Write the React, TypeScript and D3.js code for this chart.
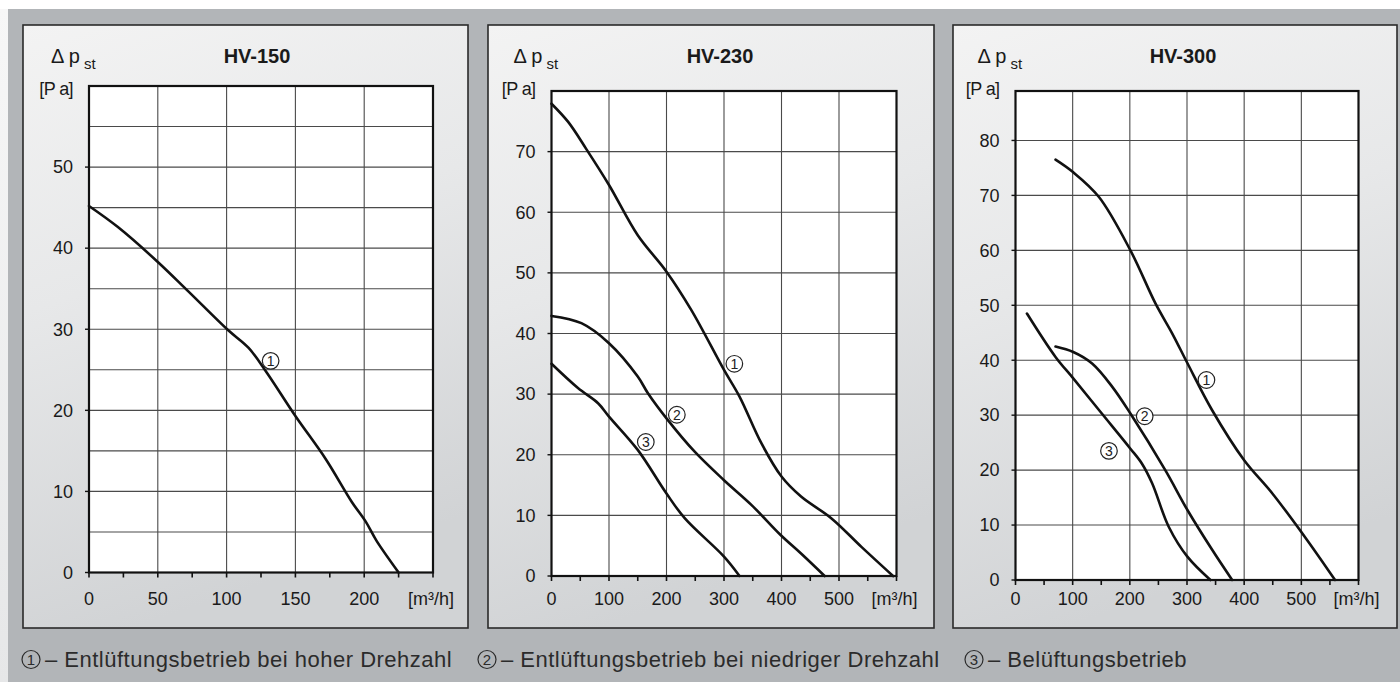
import React from "react";
import * as d3 from "d3";

// ---------- data ----------
const titles = ["HV-150", "HV-230", "HV-300"];

const hv150XLabels = [0, 50, 100, 150, 200];
const hv150YLabels = [0, 10, 20, 30, 40, 50];
const hv230XLabels = [0, 100, 200, 300, 400, 500];
const hv230YLabels = [0, 10, 20, 30, 40, 50, 60, 70];
const hv300XLabels = [0, 100, 200, 300, 400, 500];
const hv300YLabels = [0, 10, 20, 30, 40, 50, 60, 70, 80];

// (1) high speed exhaust, (2) low speed exhaust, (3) supply
const hv150High: [number, number][] = [
  [0, 45.2], [21, 42.6], [50, 38.3], [72, 34.7], [101, 29.9], [116, 27.7],
  [129, 24.7], [150, 19.3], [172, 14.0], [191, 8.7], [201, 6.3], [209, 3.9], [225, 0],
];
const hv230High: [number, number][] = [
  [0, 77.9], [29, 74.9], [60, 70.5], [100, 64.5], [150, 56.2], [200, 50.2],
  [243, 43.9], [300, 34.0], [327, 29.6], [365, 21.9], [400, 16.4], [434, 13.1],
  [487, 9.5], [539, 4.8], [594, 0],
];
const hv230Low: [number, number][] = [
  [0, 42.9], [52, 41.7], [100, 38.4], [150, 32.9], [168, 30.1], [200, 26.0],
  [249, 20.5], [300, 15.8], [348, 11.7], [398, 6.8], [434, 3.7], [475, 0],
];
const hv230Supply: [number, number][] = [
  [0, 35.0], [46, 31.0], [81, 28.5], [100, 26.3], [150, 20.8], [200, 13.6],
  [232, 9.5], [300, 3.2], [327, 0],
];
const hv300High: [number, number][] = [
  [70, 76.5], [101, 74.2], [146, 69.7], [201, 60], [245, 50.3], [274, 44.9],
  [301, 39.4], [344, 30.9], [400, 21.8], [449, 15.8], [510, 7.3], [559, 0],
];
const hv300Low: [number, number][] = [
  [70, 42.5], [101, 41.5], [134, 39.4], [169, 35.2], [201, 30.3], [262, 20],
  [301, 12.7], [344, 5.5], [379, 0],
];
const hv300Supply: [number, number][] = [
  [20, 48.5], [70, 40.6], [101, 36.7], [151, 30.3], [201, 23.9], [221, 21.2],
  [239, 17.6], [268, 9.7], [301, 4.2], [341, 0],
];

// curve number markers: [x, y, label]
const hv150Markers: [number, number, string][] = [[132, 26.1, "1"]];
const hv230Markers: [number, number, string][] = [
  [318, 35, "1"], [218, 26.6, "2"], [164, 22.1, "3"],
];
const hv300Markers: [number, number, string][] = [
  [334, 36.4, "1"], [226, 29.8, "2"], [163.5, 23.5, "3"],
];

const legendNums = ["1", "2", "3"];
const legendTexts = [
  "– Entlüftungsbetrieb bei hoher Drehzahl",
  "– Entlüftungsbetrieb bei niedriger Drehzahl",
  "– Belüftungsbetrieb",
];

// ---------- layout ----------
const FONT = "'Liberation Sans', Arial, Helvetica, sans-serif";

const panelLayout = [
  { box: [23, 25, 468, 628], left: 89, right: 433, top: 86, bottom: 572.5, xMax: 250, yMax: 60, xGridStep: 50, xTickStep: 25, yGridStep: 5 },
  { box: [488, 25, 934, 628], left: 551.5, right: 896.5, top: 91, bottom: 576, xMax: 600, yMax: 80, xGridStep: 100, xTickStep: 50, yGridStep: 10 },
  { box: [953, 25, 1397, 628], left: 1015.5, right: 1358.5, top: 91, bottom: 580, xMax: 600, yMax: 89, xGridStep: 100, xTickStep: 50, yGridStep: 10 },
];
const panelData = [
  { xLabels: hv150XLabels, yLabels: hv150YLabels, series: [hv150High], markers: hv150Markers },
  { xLabels: hv230XLabels, yLabels: hv230YLabels, series: [hv230High, hv230Low, hv230Supply], markers: hv230Markers },
  { xLabels: hv300XLabels, yLabels: hv300YLabels, series: [hv300High, hv300Low, hv300Supply], markers: hv300Markers },
];
const legendX = [31, 487, 974];

function Panel({ i }: { i: number }) {
  const L = panelLayout[i];
  const D = panelData[i];
  const x = d3.scaleLinear().domain([0, L.xMax]).range([L.left, L.right]);
  const y = d3.scaleLinear().domain([0, L.yMax]).range([L.bottom, L.top]);
  const line = d3
    .line<[number, number]>()
    .x((d) => x(d[0]))
    .y((d) => y(d[1]))
    .curve(d3.curveCatmullRom.alpha(0.5));
  const [bx0, by0, bx1, by1] = L.box;
  const yGrid = d3.range(L.yGridStep, L.yMax - 0.01, L.yGridStep);
  const xGrid = d3.range(L.xGridStep, L.xMax - 0.01, L.xGridStep);
  const xTicks = d3.range(0, L.xMax + 0.01, L.xTickStep);
  return (
    <g>
      <rect x={bx0} y={by0} width={bx1 - bx0} height={by1 - by0} fill="url(#panelGrad)" stroke="#2a2a2a" strokeWidth={1.6} />
      <text x={(L.left + L.right) / 2 - 4} y={63} textAnchor="middle" fontFamily={FONT} fontWeight="bold" fontSize={20} fill="#1a1a1a">
        {titles[i]}
      </text>
      <text x={L.left - 38} y={63} fontFamily={FONT} fontSize={20} fill="#1a1a1a">
        Δ p<tspan dy={6} fontSize={15}> st</tspan>
      </text>
      <text x={L.left - 16} y={95} textAnchor="end" fontFamily={FONT} fontSize={18} letterSpacing={-0.6} fill="#1a1a1a">
        [P a]
      </text>
      <rect x={L.left} y={L.top} width={L.right - L.left} height={L.bottom - L.top} fill="#ffffff" />
      {yGrid.map((v) => (
        <line key={"hy" + v} x1={L.left} x2={L.right} y1={y(v)} y2={y(v)} stroke="#4a4a4a" strokeWidth={1.1} />
      ))}
      {xGrid.map((v) => (
        <line key={"vx" + v} x1={x(v)} x2={x(v)} y1={L.top} y2={L.bottom} stroke="#4a4a4a" strokeWidth={1.1} />
      ))}
      <rect x={L.left} y={L.top} width={L.right - L.left} height={L.bottom - L.top} fill="none" stroke="#111" strokeWidth={2.2} />
      {xTicks.map((v) => (
        <line key={"xt" + v} x1={x(v)} x2={x(v)} y1={L.bottom} y2={L.bottom + 5} stroke="#111" strokeWidth={1.6} />
      ))}
      {D.yLabels.map((v) => (
        <g key={"yl" + v}>
          <line x1={L.left - 4} x2={L.left} y1={y(v)} y2={y(v)} stroke="#111" strokeWidth={1.4} />
          <text x={L.left - 16} y={y(v)} dy="0.35em" textAnchor="end" fontFamily={FONT} fontSize={18} fill="#1a1a1a">
            {v}
          </text>
        </g>
      ))}
      {D.xLabels.map((v) => (
        <text key={"xl" + v} x={x(v)} y={605} textAnchor="middle" fontFamily={FONT} fontSize={18} fill="#1a1a1a">
          {v}
        </text>
      ))}
      <text x={x(L.xMax) - 2} y={605} textAnchor="middle" fontFamily={FONT} fontSize={18} fill="#1a1a1a">
        [m³/h]
      </text>
      {D.series.map((s, k) => (
        <path key={"s" + k} d={line(s) || ""} fill="none" stroke="#111" strokeWidth={2.6} strokeLinejoin="round" strokeLinecap="round" />
      ))}
      {D.markers.map(([mx, my, lab]) => (
        <g key={"m" + lab}>
          <circle cx={x(mx)} cy={y(my)} r={8.3} fill="#ffffff" stroke="#222" strokeWidth={1.2} />
          <text x={x(mx)} y={y(my)} dy="0.36em" textAnchor="middle" fontFamily={FONT} fontSize={14} fill="#222">
            {lab}
          </text>
        </g>
      ))}
    </g>
  );
}

export default function App() {
  return (
    <svg width={1400} height={682} style={{ position: "absolute", left: 0, top: 0 }}>
      <defs>
        <linearGradient id="panelGrad" x1="0" y1="0" x2="0.25" y2="1">
          <stop offset="0" stopColor="#f3f3f3" />
          <stop offset="0.45" stopColor="#e7e8e9" />
          <stop offset="1" stopColor="#d1d3d5" />
        </linearGradient>
        <linearGradient id="stripGrad" x1="0" y1="0" x2="0" y2="1">
          <stop offset="0" stopColor="#f7f7f7" />
          <stop offset="1" stopColor="#e6e7e8" />
        </linearGradient>
      </defs>
      <rect x={0} y={0} width={1400} height={682} fill="#ffffff" />
      <rect x={0} y={9} width={8} height={673} fill="url(#stripGrad)" />
      <rect x={8} y={9} width={1392} height={673} fill="#b2b5b8" />
      {[0, 1, 2].map((i) => (
        <Panel key={i} i={i} />
      ))}
      {legendNums.map((n, k) => (
        <g key={"lg" + n}>
          <circle cx={legendX[k]} cy={659.5} r={9} fill="none" stroke="#2b2b2b" strokeWidth={1.2} />
          <text x={legendX[k]} y={659.5} dy="0.36em" textAnchor="middle" fontFamily={FONT} fontSize={15} fill="#2b2b2b">
            {n}
          </text>
          <text x={legendX[k] + 14} y={667} fontFamily={FONT} fontSize={22} letterSpacing={0.5} fill="#2b2b2b">
            {legendTexts[k]}
          </text>
        </g>
      ))}
    </svg>
  );
}
